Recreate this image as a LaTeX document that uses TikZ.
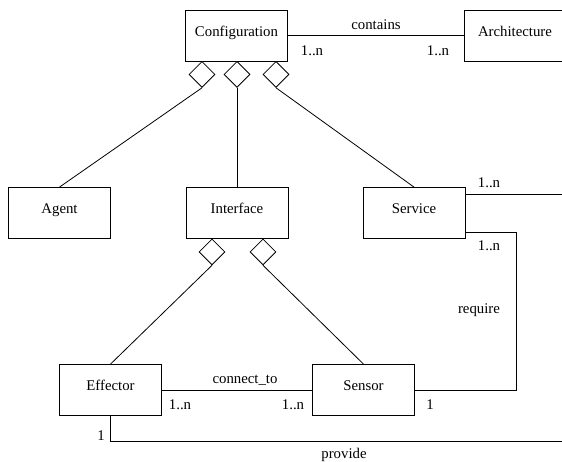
\documentclass[tikz,border=0pt]{standalone}
\usepackage{fontspec}
\setmainfont{Liberation Serif}
\usetikzlibrary{shapes.geometric}
\begin{document}
\begin{tikzpicture}[x=1pt,y=-1pt,
  box/.style={draw, line width=0.8pt, minimum width=102pt, minimum height=51pt, inner sep=0pt, text height=10pt, text depth=9pt, font=\fontsize{14.8}{16}\selectfont},
  agg/.style={draw, shape=diamond, minimum width=26pt, minimum height=26pt, inner sep=0pt, fill=white, line width=0.8pt},
  lbl/.style={inner sep=0pt, font=\fontsize{14.8}{16}\selectfont},
  conn/.style={line width=0.8pt}]
\useasboundingbox (0,0) rectangle (562,461);
\clip (0,0) rectangle (562,461);
% classes
\node[box] (conf) at (236.5,35.5) {Configuration};
\node[box] (arch) at (515,35.5) {Architecture};
\node[box] (agent) at (59.5,213) {Agent};
\node[box] (intf) at (237,213) {Interface};
\node[box] (serv) at (414,213) {Service};
\node[box] (eff) at (110.5,390) {Effector};
\node[box] (sens) at (363.5,390) {Sensor};
% aggregation diamonds
\node[agg, anchor=north] (d1) at (202,61) {};
\node[agg, anchor=north] (d2) at (237,61) {};
\node[agg, anchor=north] (d3) at (276,61) {};
\node[agg, anchor=north] (d4) at (212,238.5) {};
\node[agg, anchor=north] (d5) at (263,238.5) {};
% free ends
\coordinate (e1) at (562,194);
\coordinate (r1) at (516,232);
\coordinate (p1) at (562,441);
% connectors
\draw[conn] (conf) -- (arch);
\draw[conn] (d1.south) -- (agent.north);
\draw[conn] (d2.south) -- (intf.north);
\draw[conn] (d3.south) -- (serv.north);
\draw[conn] (d4.south) -- (eff.north);
\draw[conn] (d5.south) -- (sens.north);
\draw[conn] (eff) -- (sens);
\draw[conn] (serv.east |- e1) -- (e1);
\draw[conn] (serv.east |- r1) -- (r1) |- (sens.east);
\draw[conn] (eff.south) |- (p1);
% labels
\node[lbl] (l1) at (376,25) {contains};
\node[lbl] (l2) at (312,51) {1..n};
\node[lbl] (l3) at (438,51) {1..n};
\node[lbl] (l4) at (489,183) {1..n};
\node[lbl] (l5) at (489,246) {1..n};
\node[lbl] (l6) at (479,310) {require};
\node[lbl] (l7) at (245,380) {connect\_to};
\node[lbl] (l8) at (180,405) {1..n};
\node[lbl] (l9) at (293,405) {1..n};
\node[lbl] (l10) at (430,405) {1};
\node[lbl] (l11) at (101,436) {1};
\node[lbl] (l12) at (344,455) {provide};
\end{tikzpicture}
\end{document}
